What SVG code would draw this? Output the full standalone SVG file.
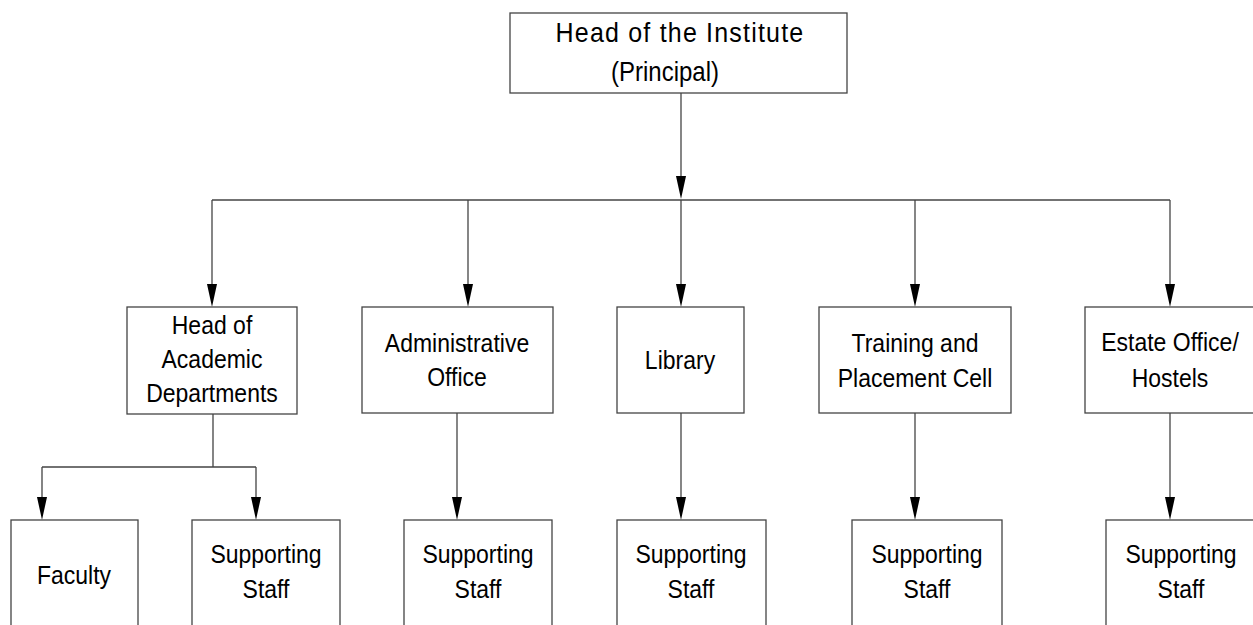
<svg xmlns="http://www.w3.org/2000/svg" width="1253" height="625" viewBox="0 0 1253 625">
<defs>
<style>
.box{fill:#fff;stroke:#444;stroke-width:1.3}
.t{font-family:"Liberation Sans",Arial,sans-serif;font-size:23px;fill:#000;text-anchor:middle}
.h{font-size:25px;letter-spacing:1.2px}
.p{font-size:24px}
.c{fill:none;stroke:#444;stroke-width:1.3}
.a{fill:#000}
</style>
</defs>
<rect width="1253" height="625" fill="#fff"/>
<g id="connectors">
<path class="c" d="M681,93 V176"/>
<path class="a" d="M676,176 L686,176 L681,199 Z"/>
<path class="c" d="M212,200 H1170"/>
<path class="c" d="M212,200 V284"/><path class="a" d="M207,284 L217,284 L212,307 Z"/>
<path class="c" d="M468,200 V284"/><path class="a" d="M463,284 L473,284 L468,307 Z"/>
<path class="c" d="M681,200 V284"/><path class="a" d="M676,284 L686,284 L681,307 Z"/>
<path class="c" d="M915,200 V284"/><path class="a" d="M910,284 L920,284 L915,307 Z"/>
<path class="c" d="M1170,200 V284"/><path class="a" d="M1165,284 L1175,284 L1170,307 Z"/>
<path class="c" d="M213,414 V467 M42,467 H256 M42,467 V497 M256,467 V497"/>
<path class="a" d="M37,497 L47,497 L42,520 Z"/><path class="a" d="M251,497 L261,497 L256,520 Z"/>
<path class="c" d="M457,413 V497"/><path class="a" d="M452,497 L462,497 L457,520 Z"/>
<path class="c" d="M681,413 V497"/><path class="a" d="M676,497 L686,497 L681,520 Z"/>
<path class="c" d="M915,413 V497"/><path class="a" d="M910,497 L920,497 L915,520 Z"/>
<path class="c" d="M1170,413 V497"/><path class="a" d="M1165,497 L1175,497 L1170,520 Z"/>
</g>
<g id="head">
<rect class="box" x="510" y="13" width="337" height="80"/>
<text class="t h" transform="matrix(1,0,0,1.1,680,42)">Head of the Institute</text>
<text class="t p" transform="matrix(1,0,0,1.12,665,81)">(Principal)</text>
</g>
<g id="academic">
<rect class="box" x="127" y="307" width="170" height="107"/>
<text class="t" transform="matrix(1,0,0,1.12,212,334)">Head of</text>
<text class="t" transform="matrix(1,0,0,1.12,212,368)">Academic</text>
<text class="t" transform="matrix(1,0,0,1.12,212,402)">Departments</text>
</g>
<g id="admin">
<rect class="box" x="362" y="307" width="191" height="106"/>
<text class="t" transform="matrix(1,0,0,1.12,457,352)">Administrative</text>
<text class="t" transform="matrix(1,0,0,1.12,457,386)">Office</text>
</g>
<g id="library">
<rect class="box" x="617" y="307" width="127" height="106"/>
<text class="t" transform="matrix(1,0,0,1.12,680,369)">Library</text>
</g>
<g id="training">
<rect class="box" x="819" y="307" width="192" height="106"/>
<text class="t" transform="matrix(1,0,0,1.12,915,352)">Training and</text>
<text class="t" transform="matrix(1,0,0,1.12,915,387)">Placement Cell</text>
</g>
<g id="estate">
<rect class="box" x="1085" y="307" width="170" height="106"/>
<text class="t" transform="matrix(1,0,0,1.12,1170,351)">Estate Office/</text>
<text class="t" transform="matrix(1,0,0,1.12,1170,387)">Hostels</text>
</g>
<g id="faculty">
<rect class="box" x="11" y="520" width="127" height="120"/>
<text class="t" transform="matrix(1,0,0,1.12,74,584)">Faculty</text>
</g>
<g id="ss1">
<rect class="box" x="192" y="520" width="148" height="120"/>
<text class="t" transform="matrix(1,0,0,1.12,266,563)">Supporting</text>
<text class="t" transform="matrix(1,0,0,1.12,266,598)">Staff</text>
</g>
<g id="ss2">
<rect class="box" x="404" y="520" width="148" height="120"/>
<text class="t" transform="matrix(1,0,0,1.12,478,563)">Supporting</text>
<text class="t" transform="matrix(1,0,0,1.12,478,598)">Staff</text>
</g>
<g id="ss3">
<rect class="box" x="617" y="520" width="149" height="120"/>
<text class="t" transform="matrix(1,0,0,1.12,691,563)">Supporting</text>
<text class="t" transform="matrix(1,0,0,1.12,691,598)">Staff</text>
</g>
<g id="ss4">
<rect class="box" x="852" y="520" width="150" height="120"/>
<text class="t" transform="matrix(1,0,0,1.12,927,563)">Supporting</text>
<text class="t" transform="matrix(1,0,0,1.12,927,598)">Staff</text>
</g>
<g id="ss5">
<rect class="box" x="1106" y="520" width="150" height="120"/>
<text class="t" transform="matrix(1,0,0,1.12,1181,563)">Supporting</text>
<text class="t" transform="matrix(1,0,0,1.12,1181,598)">Staff</text>
</g>
</svg>
